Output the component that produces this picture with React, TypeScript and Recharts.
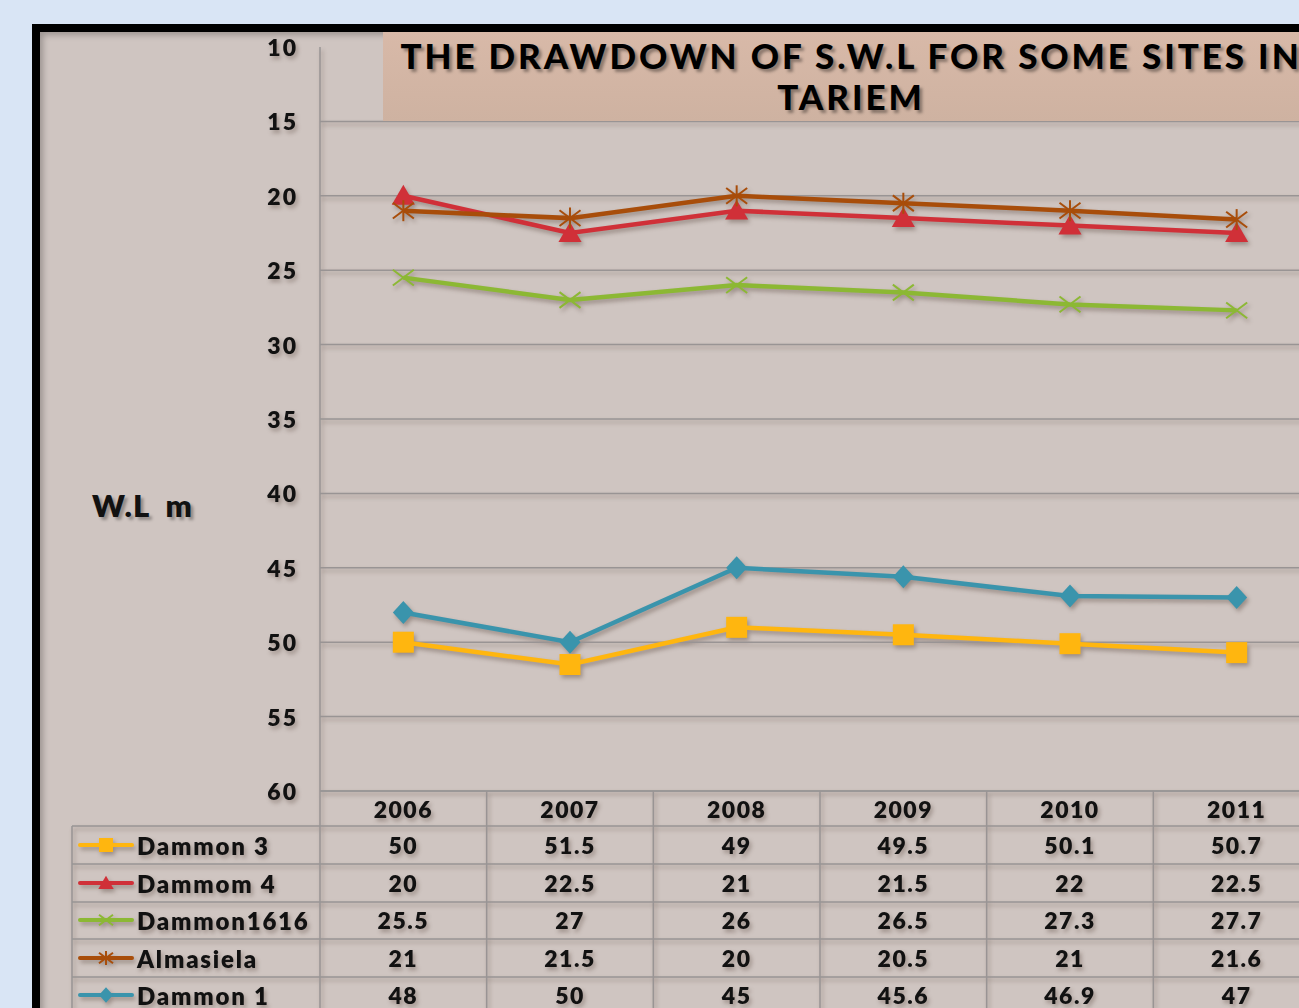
import React from 'react';
import { LineChart, Line, XAxis, YAxis, CartesianGrid } from 'recharts';

const years = ['2006', '2007', '2008', '2009', '2010', '2011'];
const dammon3 = [50, 51.5, 49, 49.5, 50.1, 50.7];
const dammom4 = [20, 22.5, 21, 21.5, 22, 22.5];
const dammon1616 = [25.5, 27, 26, 26.5, 27.3, 27.7];
const almasiela = [21, 21.5, 20, 20.5, 21, 21.6];
const dammon1 = [48, 50, 45, 45.6, 46.9, 47];
const yTicks = [10, 15, 20, 25, 30, 35, 40, 45, 50, 55, 60];

const series = [
  { key: 'dammon3', name: 'Dammon 3', values: dammon3, color: '#ffb60f', shape: 'square' },
  { key: 'dammom4', name: 'Dammom 4', values: dammom4, color: '#d03038', shape: 'triangle' },
  { key: 'dammon1616', name: 'Dammon1616', values: dammon1616, color: '#8cb834', shape: 'x' },
  { key: 'almasiela', name: 'Almasiela', values: almasiela, color: '#a84d0a', shape: 'star' },
  { key: 'dammon1', name: 'Dammon 1', values: dammon1, color: '#3a94ac', shape: 'diamond' },
];

const data = years.map((y, i) => {
  const row: Record<string, any> = { year: y };
  series.forEach(s => (row[s.key] = s.values[i]));
  return row;
});

const FONT = 'Lato, "DejaVu Sans", sans-serif';
const CHART_W = 1322;
const CHART_H = 1008;
const PLOT_LEFT = 320;
const PLOT_TOP = 47;
const PLOT_W = 1000;
const AXIS_H = 217;
const BAND = PLOT_W / years.length;
const GRID = '#999494';
const ROW_LINES = [35, 73, 111, 148, 186];
const ROW_TEXT = [54, 92, 129, 167, 204];

const Marker = ({ cx, cy, shape, color, s }: any) => {
  if (cx == null || cy == null) return null;
  const h = s / 2;
  if (shape === 'square') return <rect x={cx - h} y={cy - h} width={s} height={s} fill={color} />;
  if (shape === 'triangle')
    return <polygon points={`${cx},${cy - h * 1.05} ${cx + h * 1.1},${cy + h * 0.85} ${cx - h * 1.1},${cy + h * 0.85}`} fill={color} />;
  if (shape === 'diamond')
    return <polygon points={`${cx},${cy - h * 1.1} ${cx + h},${cy} ${cx},${cy + h * 1.1} ${cx - h},${cy}`} fill={color} />;
  const lines = [
    <line key="a" x1={cx - h} y1={cy - h * 0.75} x2={cx + h} y2={cy + h * 0.75} stroke={color} strokeWidth={2} />,
    <line key="b" x1={cx - h} y1={cy + h * 0.75} x2={cx + h} y2={cy - h * 0.75} stroke={color} strokeWidth={2} />,
  ];
  if (shape === 'star') lines.push(<line key="c" x1={cx} y1={cy - h} x2={cx} y2={cy + h} stroke={color} strokeWidth={2} />);
  return <g>{lines}</g>;
};

const YTick = ({ x, y, payload }: any) => (
  <text x={x} y={y} textAnchor="end" dominantBaseline="central" fontFamily={FONT} fontWeight={800} fontSize={23} letterSpacing={2} fill="#111">
    {payload.value}
  </text>
);

const XTick = ({ x, y, payload, index }: any) => {
  const col = years.indexOf(payload.value);
  const textProps = { fontFamily: FONT, fontWeight: 800, fontSize: 23, fill: '#111', textAnchor: 'middle' as const, dominantBaseline: 'central' as const };
  return (
    <g>
      <line x1={x + BAND / 2} y1={y} x2={x + BAND / 2} y2={CHART_H} stroke={GRID} strokeWidth={1.5} />
      {index === 0 && (
        <g>
          <line x1={x - BAND / 2} y1={y} x2={x - BAND / 2} y2={CHART_H} stroke={GRID} strokeWidth={1.5} />
          <line x1={72} y1={y + ROW_LINES[0]} x2={72} y2={CHART_H} stroke={GRID} strokeWidth={1.5} />
          {ROW_LINES.map(r => (
            <line key={r} x1={72} y1={y + r} x2={CHART_W} y2={y + r} stroke={GRID} strokeWidth={1.5} />
          ))}
          {series.map((s, i) => (
            <g key={s.key}>
              <line x1={80} y1={y + ROW_TEXT[i]} x2={132} y2={y + ROW_TEXT[i]} stroke={s.color} strokeWidth={4} strokeLinecap="round" />
              <Marker cx={106} cy={y + ROW_TEXT[i]} shape={s.shape} color={s.color} s={14} />
              <text x={137} y={y + ROW_TEXT[i]} fontFamily={FONT} fontWeight={800} fontSize={24} fill="#111" dominantBaseline="central" letterSpacing={1.8}>
                {s.name}
              </text>
            </g>
          ))}
        </g>
      )}
      <text x={x} y={y + 18} {...textProps} letterSpacing={1.5}>{payload.value}</text>
      {series.map((s, i) => (
        <text key={s.key} x={x} y={y + ROW_TEXT[i]} {...textProps} letterSpacing={1.5}>
          {s.values[col]}
        </text>
      ))}
    </g>
  );
};

export default function App() {
  return (
    <div style={{ position: 'fixed', left: 0, top: 0, width: 1299, height: 1008, overflow: 'hidden', background: '#d9e5f5' }}>
      <div
        style={{
          position: 'absolute', left: 32, top: 24, width: 1400, height: 1100,
          border: '8px solid #000', background: '#cfc5c1', boxShadow: 'inset 3px 3px 6px rgba(0,0,0,0.25)',
        }}
      />
      <div style={{ position: 'absolute', left: 0, top: 0, filter: 'drop-shadow(2px 3px 2px rgba(60,40,30,0.35))' }}>
        <LineChart
          width={CHART_W}
          height={CHART_H}
          data={data}
          margin={{ top: PLOT_TOP, right: CHART_W - PLOT_LEFT - PLOT_W, bottom: 0, left: 0 }}
        >
          <CartesianGrid vertical={false} stroke={GRID} strokeWidth={1.5} horizontalValues={yTicks.slice(1)} />
          <XAxis
            dataKey="year"
            height={AXIS_H}
            padding={{ left: BAND / 2, right: BAND / 2 }}
            tickLine={false}
            tickSize={0}
            tickMargin={0}
            axisLine={{ stroke: GRID, strokeWidth: 1.5 }}
            tick={<XTick />}
            interval={0}
          />
          <YAxis
            width={PLOT_LEFT}
            domain={[10, 60]}
            ticks={yTicks}
            reversed
            tickLine={false}
            tickSize={0}
            tickMargin={22}
            axisLine={{ stroke: GRID, strokeWidth: 1.5 }}
            tick={<YTick />}
            interval={0}
          />
          {series.map(s => (
            <Line
              key={s.key}
              dataKey={s.key}
              name={s.name}
              stroke={s.color}
              strokeWidth={4.5}
              isAnimationActive={false}
              dot={(p: any) => <Marker key={p.index} cx={p.cx} cy={p.cy} shape={s.shape} color={s.color} s={21} />}
              activeDot={false}
            />
          ))}
        </LineChart>
      </div>
      <div
        style={{
          position: 'absolute', left: 383, top: 32, width: 936, height: 89,
          background: 'linear-gradient(#d8b9a8, #ceb2a1)',
          fontFamily: FONT, fontWeight: 900, fontSize: 35, lineHeight: '41px', color: '#000',
          textAlign: 'center', whiteSpace: 'nowrap', letterSpacing: 2.9, paddingTop: 3, boxSizing: 'border-box',
          textShadow: '3px 3px 3px rgba(0,0,0,0.35)',
        }}
      >
        THE DRAWDOWN OF S.W.L FOR SOME SITES IN
        <br />
        TARIEM
      </div>
      <div
        style={{
          position: 'absolute', left: 92, top: 486, fontFamily: FONT, fontWeight: 800, fontSize: 31, letterSpacing: 1,
          color: '#111', whiteSpace: 'pre', textShadow: '3px 3px 3px rgba(0,0,0,0.3)',
        }}
      >
        W.L  m
      </div>
    </div>
  );
}
